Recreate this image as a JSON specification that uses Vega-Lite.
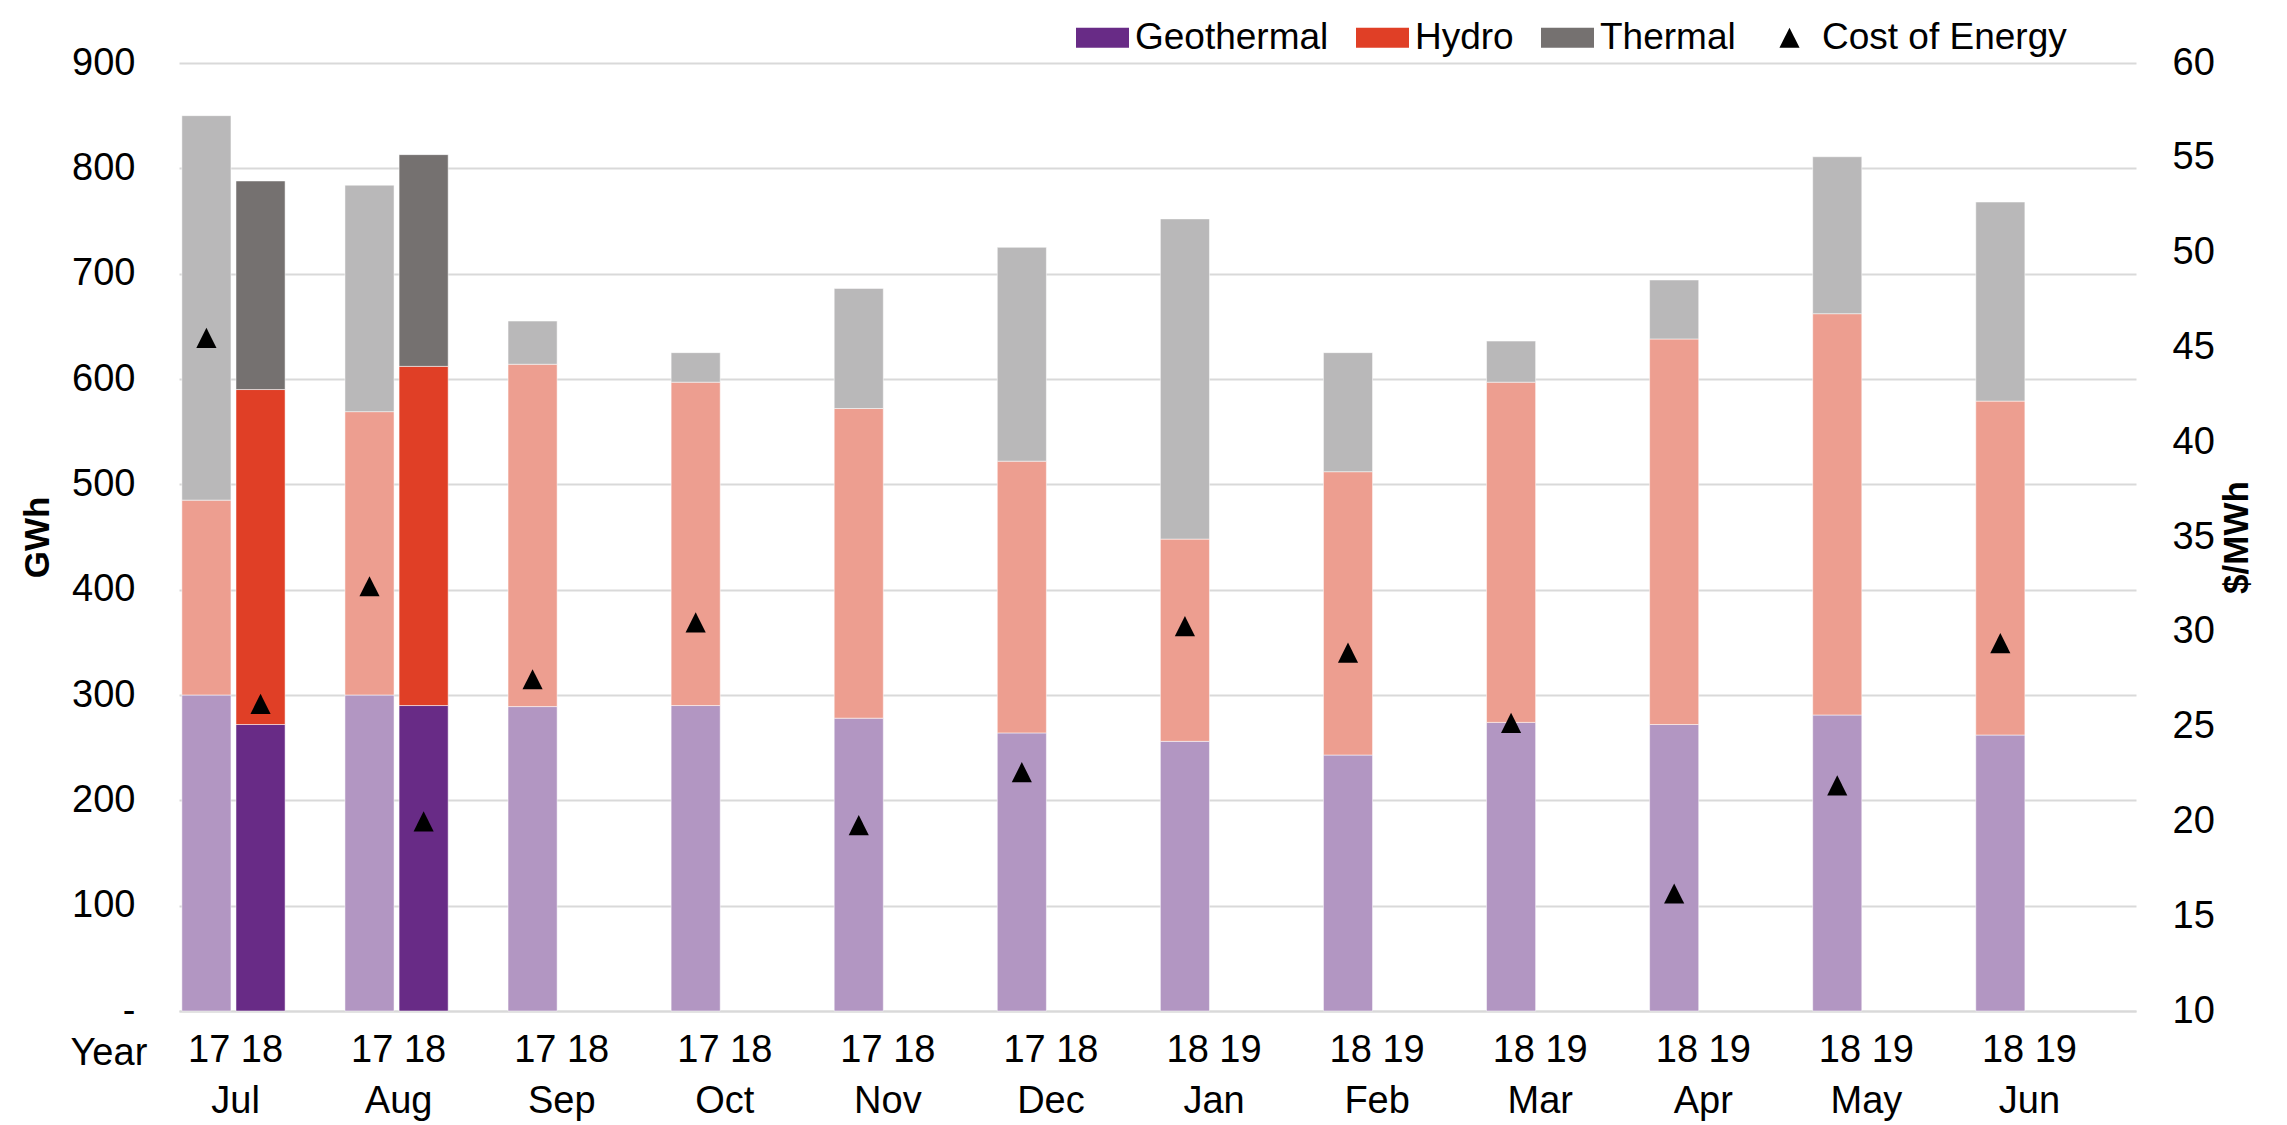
{
  "$schema": "https://vega.github.io/schema/vega-lite/v6.json",
  "width": 1957,
  "height": 948,
  "autosize": {"type": "none"},
  "padding": {"left": 179, "top": 63, "right": 151, "bottom": 114},
  "background": "white",
  "config": {
    "font": "Liberation Sans",
    "view": {"stroke": null},
    "axis": {"labelFont": "Liberation Sans", "titleFont": "Liberation Sans", "labelColor": "#000000", "titleColor": "#000000"},
    "legend": {"labelFont": "Liberation Sans", "labelColor": "#000000", "labelLimit": 0}
  },
  "datasets": {
    "gen": [
      {"label": "17 18|Jul", "period": "prior", "series": "Geothermal", "key": "Geothermal prior", "gwh": 300},
      {"label": "17 18|Jul", "period": "prior", "series": "Hydro", "key": "Hydro prior", "gwh": 185},
      {"label": "17 18|Jul", "period": "prior", "series": "Thermal", "key": "Thermal prior", "gwh": 365},
      {"label": "17 18|Jul", "period": "current", "series": "Geothermal", "key": "Geothermal", "gwh": 272},
      {"label": "17 18|Jul", "period": "current", "series": "Hydro", "key": "Hydro", "gwh": 318},
      {"label": "17 18|Jul", "period": "current", "series": "Thermal", "key": "Thermal", "gwh": 198},
      {"label": "17 18|Aug", "period": "prior", "series": "Geothermal", "key": "Geothermal prior", "gwh": 300},
      {"label": "17 18|Aug", "period": "prior", "series": "Hydro", "key": "Hydro prior", "gwh": 269},
      {"label": "17 18|Aug", "period": "prior", "series": "Thermal", "key": "Thermal prior", "gwh": 215},
      {"label": "17 18|Aug", "period": "current", "series": "Geothermal", "key": "Geothermal", "gwh": 290},
      {"label": "17 18|Aug", "period": "current", "series": "Hydro", "key": "Hydro", "gwh": 322},
      {"label": "17 18|Aug", "period": "current", "series": "Thermal", "key": "Thermal", "gwh": 201},
      {"label": "17 18|Sep", "period": "prior", "series": "Geothermal", "key": "Geothermal prior", "gwh": 289},
      {"label": "17 18|Sep", "period": "prior", "series": "Hydro", "key": "Hydro prior", "gwh": 325},
      {"label": "17 18|Sep", "period": "prior", "series": "Thermal", "key": "Thermal prior", "gwh": 41},
      {"label": "17 18|Oct", "period": "prior", "series": "Geothermal", "key": "Geothermal prior", "gwh": 290},
      {"label": "17 18|Oct", "period": "prior", "series": "Hydro", "key": "Hydro prior", "gwh": 307},
      {"label": "17 18|Oct", "period": "prior", "series": "Thermal", "key": "Thermal prior", "gwh": 28},
      {"label": "17 18|Nov", "period": "prior", "series": "Geothermal", "key": "Geothermal prior", "gwh": 278},
      {"label": "17 18|Nov", "period": "prior", "series": "Hydro", "key": "Hydro prior", "gwh": 294},
      {"label": "17 18|Nov", "period": "prior", "series": "Thermal", "key": "Thermal prior", "gwh": 114},
      {"label": "17 18|Dec", "period": "prior", "series": "Geothermal", "key": "Geothermal prior", "gwh": 264},
      {"label": "17 18|Dec", "period": "prior", "series": "Hydro", "key": "Hydro prior", "gwh": 258},
      {"label": "17 18|Dec", "period": "prior", "series": "Thermal", "key": "Thermal prior", "gwh": 203},
      {"label": "18 19|Jan", "period": "prior", "series": "Geothermal", "key": "Geothermal prior", "gwh": 256},
      {"label": "18 19|Jan", "period": "prior", "series": "Hydro", "key": "Hydro prior", "gwh": 192},
      {"label": "18 19|Jan", "period": "prior", "series": "Thermal", "key": "Thermal prior", "gwh": 304},
      {"label": "18 19|Feb", "period": "prior", "series": "Geothermal", "key": "Geothermal prior", "gwh": 243},
      {"label": "18 19|Feb", "period": "prior", "series": "Hydro", "key": "Hydro prior", "gwh": 269},
      {"label": "18 19|Feb", "period": "prior", "series": "Thermal", "key": "Thermal prior", "gwh": 113},
      {"label": "18 19|Mar", "period": "prior", "series": "Geothermal", "key": "Geothermal prior", "gwh": 274},
      {"label": "18 19|Mar", "period": "prior", "series": "Hydro", "key": "Hydro prior", "gwh": 323},
      {"label": "18 19|Mar", "period": "prior", "series": "Thermal", "key": "Thermal prior", "gwh": 39},
      {"label": "18 19|Apr", "period": "prior", "series": "Geothermal", "key": "Geothermal prior", "gwh": 272},
      {"label": "18 19|Apr", "period": "prior", "series": "Hydro", "key": "Hydro prior", "gwh": 366},
      {"label": "18 19|Apr", "period": "prior", "series": "Thermal", "key": "Thermal prior", "gwh": 56},
      {"label": "18 19|May", "period": "prior", "series": "Geothermal", "key": "Geothermal prior", "gwh": 281},
      {"label": "18 19|May", "period": "prior", "series": "Hydro", "key": "Hydro prior", "gwh": 381},
      {"label": "18 19|May", "period": "prior", "series": "Thermal", "key": "Thermal prior", "gwh": 149},
      {"label": "18 19|Jun", "period": "prior", "series": "Geothermal", "key": "Geothermal prior", "gwh": 262},
      {"label": "18 19|Jun", "period": "prior", "series": "Hydro", "key": "Hydro prior", "gwh": 317},
      {"label": "18 19|Jun", "period": "prior", "series": "Thermal", "key": "Thermal prior", "gwh": 189}
    ],
    "cost": [
      {"label": "17 18|Jul", "period": "prior", "key": "Cost of Energy", "cost": 45.5},
      {"label": "17 18|Jul", "period": "current", "key": "Cost of Energy", "cost": 26.2},
      {"label": "17 18|Aug", "period": "prior", "key": "Cost of Energy", "cost": 32.4},
      {"label": "17 18|Aug", "period": "current", "key": "Cost of Energy", "cost": 20.0},
      {"label": "17 18|Sep", "period": "prior", "key": "Cost of Energy", "cost": 27.5},
      {"label": "17 18|Oct", "period": "prior", "key": "Cost of Energy", "cost": 30.5},
      {"label": "17 18|Nov", "period": "prior", "key": "Cost of Energy", "cost": 19.8},
      {"label": "17 18|Dec", "period": "prior", "key": "Cost of Energy", "cost": 22.6},
      {"label": "18 19|Jan", "period": "prior", "key": "Cost of Energy", "cost": 30.3},
      {"label": "18 19|Feb", "period": "prior", "key": "Cost of Energy", "cost": 28.9},
      {"label": "18 19|Mar", "period": "prior", "key": "Cost of Energy", "cost": 25.2},
      {"label": "18 19|Apr", "period": "prior", "key": "Cost of Energy", "cost": 16.2},
      {"label": "18 19|May", "period": "prior", "key": "Cost of Energy", "cost": 21.9},
      {"label": "18 19|Jun", "period": "prior", "key": "Cost of Energy", "cost": 29.4}
    ]
  },
  "layer": [
    {
      "data": {"name": "gen"},
      "mark": {"type": "bar", "stroke": "#ffffff", "strokeWidth": 1, "strokeOpacity": 0.5},
      "encoding": {
        "x": {
          "field": "label", "type": "nominal", "sort": null,
          "scale": {"domain": ["17 18|Jul", "17 18|Aug", "17 18|Sep", "17 18|Oct", "17 18|Nov", "17 18|Dec", "18 19|Jan", "18 19|Feb", "18 19|Mar", "18 19|Apr", "18 19|May", "18 19|Jun"], "paddingInner": 0, "paddingOuter": 0},
          "axis": {
            "title": "Year", "titleX": -109, "titleY": 42, "titleAlign": "left", "titleBaseline": "middle", "titleAngle": 0,
            "titleFontWeight": "normal", "titleFontSize": 38,
            "labelExpr": "split(datum.value, '|')", "labelFontSize": 38, "labelAngle": 0, "labelOffset": -25,
            "labelPadding": 20, "labelLineHeight": 51, "labelBaseline": "top",
            "ticks": false, "domainColor": "#D9D9D9", "domainWidth": 2, "grid": false
          }
        },
        "xOffset": {"field": "period", "type": "nominal", "scale": {"domain": ["prior", "current", "pad"], "paddingInner": 0.093, "paddingOuter": 0.053}},
        "y": {
          "field": "gwh", "type": "quantitative", "stack": "zero",
          "scale": {"domain": [0, 900], "nice": false},
          "axis": {
            "title": "GWh", "titleFontSize": 35, "titleFontWeight": "bold", "titlePadding": 16,
            "values": [0, 100, 200, 300, 400, 500, 600, 700, 800, 900],
            "labelExpr": "datum.value === 0 ? '-' : datum.label", "labelFontSize": 38, "labelPadding": 44,
            "ticks": false, "domain": false, "gridColor": "#D9D9D9", "gridWidth": 2
          }
        },
        "color": {
          "field": "key", "type": "nominal",
          "scale": {
            "domain": ["Geothermal", "Hydro", "Thermal", "Cost of Energy", "Geothermal prior", "Hydro prior", "Thermal prior"],
            "range": ["#682B86", "#E03F26", "#757170", "#000000", "#B296C2", "#ED9E90", "#B9B8B9"]
          },
          "legend": {
            "values": ["Geothermal", "Hydro", "Thermal", "Cost of Energy"], "title": null, "orient": "none",
            "legendX": 897, "legendY": -52, "direction": "horizontal", "labelFontSize": 37, "symbolSize": 2809,
            "columnPadding": 27, "labelOffset": 6, "symbolStrokeWidth": 0
          }
        },
        "order": {"field": "series", "sort": "ascending"}
      }
    },
    {
      "data": {"name": "cost"},
      "mark": {"type": "point", "filled": true, "size": 2809, "opacity": 1, "strokeWidth": 0},
      "encoding": {
        "x": {"field": "label", "type": "nominal", "sort": null},
        "xOffset": {"field": "period", "type": "nominal"},
        "y": {
          "field": "cost", "type": "quantitative",
          "scale": {"domain": [10, 60], "nice": false},
          "axis": {
            "orient": "right", "title": "$/MWh", "titleFontSize": 35, "titleFontWeight": "bold", "titleAngle": 270, "titlePadding": 40,
            "values": [10, 15, 20, 25, 30, 35, 40, 45, 50, 55, 60],
            "labelFontSize": 38, "labelPadding": 36, "ticks": false, "domain": false, "grid": false
          }
        },
        "color": {
          "field": "key", "type": "nominal",
          "scale": {
            "domain": ["Geothermal", "Hydro", "Thermal", "Cost of Energy", "Geothermal prior", "Hydro prior", "Thermal prior"],
            "range": ["#682B86", "#E03F26", "#757170", "#000000", "#B296C2", "#ED9E90", "#B9B8B9"]
          },
          "legend": {
            "values": ["Geothermal", "Hydro", "Thermal", "Cost of Energy"], "title": null, "orient": "none",
            "legendX": 897, "legendY": -52, "direction": "horizontal", "labelFontSize": 37, "symbolSize": 2809,
            "columnPadding": 27, "labelOffset": 6, "symbolStrokeWidth": 0
          }
        },
        "shape": {
          "field": "key", "type": "nominal",
          "scale": {
            "domain": ["Geothermal", "Hydro", "Thermal", "Cost of Energy", "Geothermal prior", "Hydro prior", "Thermal prior"],
            "range": ["M-1,-0.38H1V0.38H-1Z", "M-1,-0.38H1V0.38H-1Z", "M-1,-0.38H1V0.38H-1Z", "M0,-0.38L0.38,0.38L-0.38,0.38Z", "M-1,-0.38H1V0.38H-1Z", "M-1,-0.38H1V0.38H-1Z", "M-1,-0.38H1V0.38H-1Z"]
          },
          "legend": {
            "values": ["Geothermal", "Hydro", "Thermal", "Cost of Energy"], "title": null, "orient": "none",
            "legendX": 897, "legendY": -52, "direction": "horizontal", "labelFontSize": 37, "symbolSize": 2809,
            "columnPadding": 27, "labelOffset": 6, "symbolStrokeWidth": 0
          }
        }
      }
    }
  ],
  "resolve": {"scale": {"y": "independent"}}
}
